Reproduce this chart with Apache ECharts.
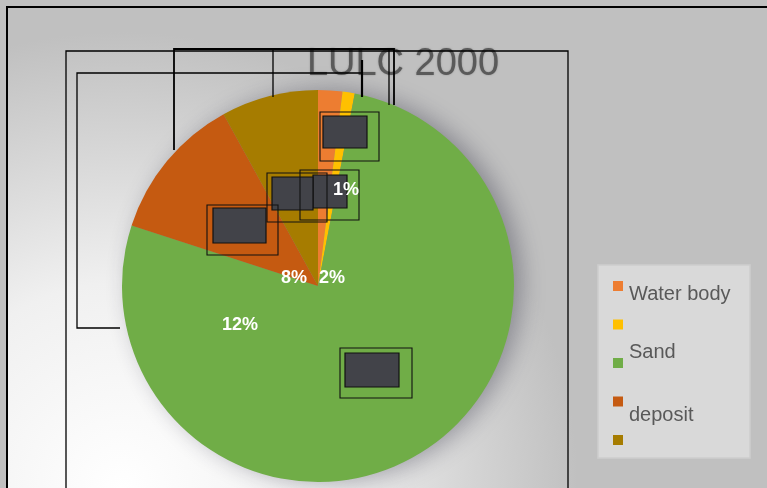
<!DOCTYPE html>
<html>
<head>
<meta charset="utf-8">
<script src="https://cdn.jsdelivr.net/npm/echarts@6/dist/echarts.min.js"></script>
<style>
  html, body { margin: 0; padding: 0; background: #c0c0c0; }
  #chart { width: 767px; height: 488px; }
</style>
</head>
<body>
<div id="chart"></div>
<script>
// Land use / land cover shares for 2000
const categories = ['Water body', ' ', 'Sand', 'deposit', '  '];
const shares = [2, 1, 77, 12, 8];
const sliceColors = ['#ED7D31', '#FFC000', '#70AD47', '#C55A11', '#A67C00'];
const chartTitle = 'LULC 2000';

// where each percentage label sits (by slice index); Sand's label is not shown
const labelSpots = [[332, 278], [346, 190], null, [240, 325], [294, 278]];
// legend caption vertical positions (by item index); blank names get none
const legendCaptionY = [294, null, 352, 415, null];

const PIE_CENTER = [318, 286];
const PIE_RADIUS = 196;
const total = shares.reduce((a, b) => a + b, 0);

const chart = echarts.init(document.getElementById('chart'), null, { renderer: 'canvas' });

const line = (points, w) => ({
  type: 'polyline', z: 100, silent: true,
  shape: { points: points },
  style: { stroke: '#000', lineWidth: w || 1.3, fill: null }
});
const darkBox = (x, y, w, h) => ({
  type: 'rect', z: 90, silent: true,
  shape: { x: x, y: y, width: w, height: h },
  style: { fill: '#424349', stroke: '#111', lineWidth: 1.2 }
});
const frame = (x, y, w, h) => ({
  type: 'rect', z: 91, silent: true,
  shape: { x: x, y: y, width: w, height: h },
  style: { fill: null, stroke: '#111', lineWidth: 1.1 }
});

const graphics = [
  // chart area with soft light patch at the lower left
  {
    type: 'rect', z: -10, silent: true,
    shape: { x: 8, y: 8, width: 759, height: 480 },
    style: {
      fill: {
        type: 'radial', x: 0.15, y: 1.0, r: 0.95,
        colorStops: [
          { offset: 0, color: '#ffffff' },
          { offset: 0.45, color: '#f0f0f0' },
          { offset: 1, color: '#c0c0c0' }
        ]
      }
    }
  },
  // outer border
  {
    type: 'rect', z: 120, silent: true,
    shape: { x: 7, y: 7, width: 800, height: 500 },
    style: { fill: null, stroke: '#000', lineWidth: 2 }
  },
  // legend panel
  {
    type: 'rect', z: 1, silent: true,
    shape: { x: 598, y: 265, width: 152, height: 193 },
    style: { fill: '#d9d9d9', stroke: '#cdcdcd', lineWidth: 1.5 }
  },
  // stray leader lines
  line([[66, 490], [66, 51], [568, 51], [568, 490]]),
  line([[174, 150], [174, 49], [394, 49], [394, 105]], 1.8),
  line([[273, 49], [273, 97]]),
  line([[389, 49], [389, 105]]),
  line([[120, 328], [77, 328], [77, 73], [362, 73], [362, 97]]),
  line([[362, 60], [362, 97]], 2.2),
  // label boxes
  frame(320, 112, 59, 49),
  darkBox(323, 116, 44, 32),
  frame(267, 173, 60, 49),
  frame(300, 170, 59, 50),
  darkBox(313, 175, 34, 33),
  darkBox(272, 177, 41, 33),
  frame(207, 205, 71, 50),
  darkBox(213, 208, 53, 35),
  frame(340, 348, 72, 50),
  darkBox(345, 353, 54, 34)
];

// legend captions
categories.forEach((name, i) => {
  if (legendCaptionY[i] === null || !name.trim()) return;
  graphics.push({
    type: 'text', z: 5, silent: true,
    style: {
      x: 629, y: legendCaptionY[i],
      text: name,
      fill: '#595959',
      font: '20px "Liberation Sans", Arial, sans-serif',
      verticalAlign: 'middle', align: 'left'
    }
  });
});

const sliceData = categories.map((name, i) => ({
  name: name,
  value: shares[i],
  itemStyle: { color: sliceColors[i] }
}));

chart.setOption({
  backgroundColor: 'transparent',
  animation: false,
  title: {
    text: chartTitle,
    left: 398, top: 41,
    textAlign: 'center',
    textStyle: {
      color: '#5a5a5a',
      fontFamily: '"Liberation Sans", Arial, sans-serif',
      fontWeight: 'normal',
      fontSize: 38,
      textShadowColor: 'rgba(0,0,0,0.25)',
      textShadowBlur: 2
    }
  },
  legend: {
    orient: 'vertical',
    left: 608, top: 276,
    itemWidth: 10, itemHeight: 10,
    itemGap: 28.5,
    icon: 'rect',
    data: categories,
    formatter: () => '',
    textStyle: { fontSize: 8, lineHeight: 8 },
    z: 6
  },
  series: [
    {
      // soft drop shadow under the whole disc
      type: 'pie',
      center: PIE_CENTER,
      radius: PIE_RADIUS - 1,
      silent: true,
      legendHoverLink: false,
      data: [{ name: '__disc', value: total }],
      itemStyle: {
        color: '#8a8a8a',
        shadowColor: 'rgba(40,40,60,0.4)',
        shadowBlur: 24,
        shadowOffsetX: 8
      },
      label: { show: false },
      labelLine: { show: false },
      emphasis: { disabled: true },
      z: 1
    },
    {
      type: 'pie',
      center: PIE_CENTER,
      radius: PIE_RADIUS,
      startAngle: 90,
      clockwise: true,
      data: sliceData,
      itemStyle: { borderWidth: 0 },
      label: { show: false },
      labelLine: { show: false },
      emphasis: { disabled: true },
      z: 2
    },
    {
      // percentage labels, drawn above the label boxes
      type: 'pie',
      center: PIE_CENTER,
      radius: PIE_RADIUS,
      startAngle: 90,
      clockwise: true,
      silent: true,
      data: sliceData.map((d, i) => ({
        name: d.name,
        value: d.value,
        itemStyle: { color: 'rgba(0,0,0,0)' },
        label: { show: labelSpots[i] !== null }
      })),
      avoidLabelOverlap: false,
      label: {
        position: 'inside',
        formatter: '{d}%',
        color: '#ffffff',
        fontFamily: '"Liberation Sans", Arial, sans-serif',
        fontWeight: 'bold',
        fontSize: 18
      },
      labelLine: { show: false },
      labelLayout: function (p) {
        const spot = labelSpots[p.dataIndex];
        if (!spot) return {};
        return { x: spot[0], y: spot[1], align: 'center', verticalAlign: 'middle' };
      },
      emphasis: { disabled: true },
      z: 95
    }
  ],
  graphic: { elements: graphics }
});
</script>
</body>
</html>
